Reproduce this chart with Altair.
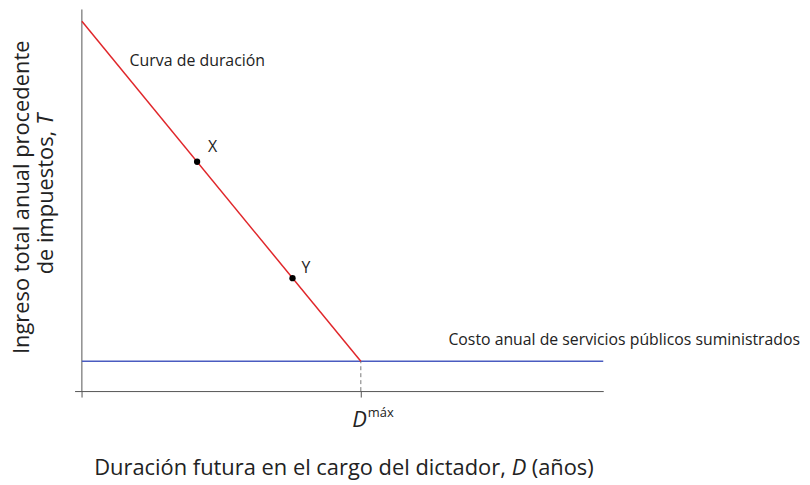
import altair as alt
import pandas as pd

# values (arbitrary units, y axis 0-100)
curve_x = [0, 53.5]
curve_y = [96.9, 7.8]
cost_x = [0, 100]
cost_level = 7.8
d_max = 53.5
point_names = ["X", "Y"]
point_x = [22.1, 40.4]
point_y = [60.1, 29.6]
tick_values = [0, d_max]

FONT = "Open Sans"
RED = "#e0262a"
BLUE = "#4a5cc0"
AXIS = "#555555"

x_scale = alt.Scale(domain=[-1.4, 100], nice=False, zero=False)
y_scale = alt.Scale(domain=[0, 100], nice=False, zero=False)

curve_df = pd.DataFrame({"x": curve_x, "y": curve_y})
cost_df = pd.DataFrame({"x": cost_x, "y": [cost_level] * len(cost_x)})
points_df = pd.DataFrame({"name": point_names, "x": point_x, "y": point_y})
dmax_df = pd.DataFrame({"x": [d_max], "y": [0], "y2": [cost_level]})

base_x = alt.X("x:Q", scale=x_scale,
               axis=alt.Axis(values=tick_values, labels=False, grid=False, title=None,
                             tickSize=6, domainColor=AXIS, tickColor=AXIS))

# vertical axis line drawn at x = 0
y_axis_line = alt.Chart(pd.DataFrame({"x": [0], "y": [0], "y2": [100]})).mark_rule(
    color=AXIS, strokeWidth=1).encode(
    x=base_x, y=alt.Y("y:Q", scale=y_scale, axis=None), y2="y2:Q")

cost_line = alt.Chart(cost_df).mark_line(color=BLUE, strokeWidth=1.5).encode(
    x=base_x, y=alt.Y("y:Q", scale=y_scale, axis=None))

dmax_rule = alt.Chart(dmax_df).mark_rule(color="#777777", strokeDash=[4, 3], strokeWidth=1).encode(
    x=base_x, y=alt.Y("y:Q", scale=y_scale, axis=None), y2="y2:Q")

curve = alt.Chart(curve_df).mark_line(color=RED, strokeWidth=1.5).encode(
    x=base_x, y=alt.Y("y:Q", scale=y_scale, axis=None))

points = alt.Chart(points_df).mark_circle(color="black", size=40, opacity=1).encode(
    x=base_x, y=alt.Y("y:Q", scale=y_scale, axis=None))

label_x = alt.Chart(points_df).transform_filter(alt.datum.name == "X").mark_text(
    align="left", baseline="middle", dx=11, dy=-15, font=FONT, fontSize=16, color="#222").encode(
    x=base_x, y=alt.Y("y:Q", scale=y_scale, axis=None), text="name:N")

label_y = alt.Chart(points_df).transform_filter(alt.datum.name == "Y").mark_text(
    align="left", baseline="middle", dx=9, dy=-10, font=FONT, fontSize=16, color="#222").encode(
    x=base_x, y=alt.Y("y:Q", scale=y_scale, axis=None), text="name:N")

curve_label = alt.Chart(curve_df.head(1)).mark_text(
    align="left", baseline="middle", dx=48, dy=40, font=FONT, fontSize=16, color="#222").encode(
    x=base_x, y=alt.Y("y:Q", scale=y_scale, axis=None), text=alt.value("Curva de duración"))

cost_label = alt.Chart(cost_df.tail(1)).mark_text(
    align="right", baseline="middle", dx=198, dy=-21, font=FONT, fontSize=15.9, color="#222").encode(
    x=base_x, y=alt.Y("y:Q", scale=y_scale, axis=None),
    text=alt.value("Costo anual de servicios públicos suministrados"))

# D^max label under the tick
dmax_d = alt.Chart(dmax_df).mark_text(
    align="right", baseline="alphabetic", dx=6, font=FONT, fontSize=22, fontStyle="italic", color="#222").encode(
    x=base_x, y=alt.value(420), text=alt.value("D"))
dmax_sup = alt.Chart(dmax_df).mark_text(
    align="left", baseline="alphabetic", dx=7, font=FONT, fontSize=13, color="#222").encode(
    x=base_x, y=alt.value(410), text=alt.value("máx"))

# axis titles, with the italic letters set as separate pieces
title_style = dict(font=FONT, fontSize=22, color="#222")
xt1 = alt.Chart(dmax_df).mark_text(align="right", baseline="alphabetic", **title_style).encode(
    x=alt.value(434), y=alt.value(468), text=alt.value("Duración futura en el cargo del dictador,"))
xt2 = alt.Chart(dmax_df).mark_text(align="left", baseline="alphabetic", fontStyle="italic", **title_style).encode(
    x=alt.value(440), y=alt.value(468), text=alt.value("D"))
xt3 = alt.Chart(dmax_df).mark_text(align="left", baseline="alphabetic", **title_style).encode(
    x=alt.value(460), y=alt.value(468), text=alt.value("(años)"))

yt1 = alt.Chart(dmax_df).mark_text(angle=270, align="center", baseline="middle", **title_style).encode(
    x=alt.value(-53), y=alt.value(189), text=alt.value("Ingreso total anual procedente"))
yt2 = alt.Chart(dmax_df).mark_text(angle=270, align="right", baseline="middle", **title_style).encode(
    x=alt.value(-29), y=alt.value(122), text=alt.value("de impuestos,"))
yt3 = alt.Chart(dmax_df).mark_text(angle=270, align="left", baseline="middle", fontStyle="italic", **title_style).encode(
    x=alt.value(-29), y=alt.value(116), text=alt.value("T"))

chart = alt.layer(
    y_axis_line, cost_line, dmax_rule, curve, points,
    label_x, label_y, curve_label, cost_label, dmax_d, dmax_sup,
    xt1, xt2, xt3, yt1, yt2, yt3
).properties(
    width=532,
    height=384,
    autosize=alt.AutoSizeParams(type="none"),
    padding={"left": 67, "top": 0, "right": 200, "bottom": 90}
).configure_view(stroke=None)

chart.save("out.html", embed_options={"renderer": "svg", "actions": False})
